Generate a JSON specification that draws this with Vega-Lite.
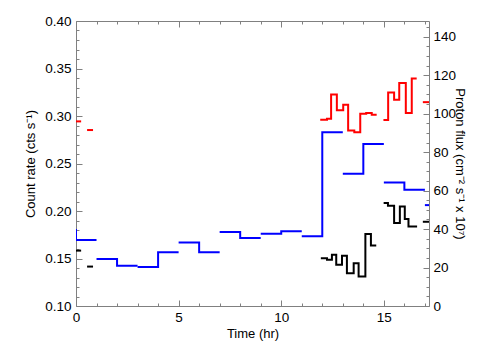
{
  "$schema": "https://vega.github.io/schema/vega-lite/v6.json",
  "width": 353,
  "height": 285,
  "autosize": {"type": "none"},
  "padding": {"left": 76, "top": 21, "right": 75, "bottom": 54},
  "background": "white",
  "config": {
    "view": {"stroke": null},
    "font": "Liberation Sans",
    "axis": {
      "labelFont": "Liberation Sans",
      "titleFont": "Liberation Sans",
      "labelFontSize": 13.5,
      "titleFontSize": 13,
      "titleFontWeight": "normal",
      "labelColor": "black",
      "titleColor": "black",
      "domainColor": "#808080",
      "tickColor": "#808080",
      "grid": false,
      "labelOverlap": false,
      "labelFlush": false,
      "labelBound": false
    }
  },
  "layer": [
    {
      "data": {"values": [
        {"t": -1, "v": 0.180, "g": 1}, {"t": 0, "v": 0.1696, "g": 1}, {"t": 1, "v": 0.1696, "g": 1},
        {"t": 1, "v": 0.1496, "g": 2}, {"t": 2, "v": 0.1425, "g": 2}, {"t": 3, "v": 0.1425, "g": 2},
        {"t": 3, "v": 0.1411, "g": 3}, {"t": 4, "v": 0.1566, "g": 3}, {"t": 5, "v": 0.1566, "g": 3},
        {"t": 5, "v": 0.1668, "g": 4}, {"t": 6, "v": 0.1566, "g": 4}, {"t": 7, "v": 0.1566, "g": 4},
        {"t": 7, "v": 0.178, "g": 5}, {"t": 8, "v": 0.1717, "g": 5}, {"t": 9, "v": 0.1717, "g": 5},
        {"t": 9, "v": 0.176, "g": 6}, {"t": 10, "v": 0.1788, "g": 6}, {"t": 11, "v": 0.1788, "g": 6},
        {"t": 11, "v": 0.1735, "g": 7}, {"t": 12, "v": 0.2828, "g": 7}, {"t": 13, "v": 0.2828, "g": 7},
        {"t": 13, "v": 0.2392, "g": 8}, {"t": 14, "v": 0.2706, "g": 8}, {"t": 15, "v": 0.2706, "g": 8},
        {"t": 15, "v": 0.230, "g": 9}, {"t": 16, "v": 0.2224, "g": 9}, {"t": 17, "v": 0.2224, "g": 9},
        {"t": 17, "v": 0.2062, "g": 10}, {"t": 18, "v": 0.2062, "g": 10}
      ]},
      "mark": {"type": "line", "interpolate": "step-after", "clip": true, "color": "#0000ff", "strokeWidth": 2},
      "encoding": {
        "x": {
          "field": "t", "type": "quantitative",
          "scale": {"domain": [0, 17.2], "nice": false, "zero": false},
          "axis": {
            "orient": "bottom",
            "title": "Time (hr)",
            "titlePadding": 1,
            "values": [0,1,2,3,4,5,6,7,8,9,10,11,12,13,14,15,16,17],
            "tickSize": {"condition": {"test": "datum.value % 5 == 0", "value": -6}, "value": -3},
            "labelExpr": "datum.value % 5 == 0 ? datum.label : ''",
            "labelPadding": 10
          }
        },
        "y": {
          "field": "v", "type": "quantitative",
          "scale": {"domain": [0.1, 0.4], "nice": false, "zero": false},
          "axis": {
            "orient": "left",
            "title": "Count rate (cts s⁻¹)",
            "titlePadding": 7,
            "values": [0.10,0.11,0.12,0.13,0.14,0.15,0.16,0.17,0.18,0.19,0.20,0.21,0.22,0.23,0.24,0.25,0.26,0.27,0.28,0.29,0.30,0.31,0.32,0.33,0.34,0.35,0.36,0.37,0.38,0.39,0.40],
            "tickSize": {"condition": {"test": "round(datum.value*100) % 5 == 0", "value": -6}, "value": -3},
            "labelExpr": "round(datum.value*100) % 5 == 0 ? format(datum.value, '.2f') : ''",
            "labelPadding": 11
          }
        },
        "detail": {"field": "g", "type": "nominal"}
      }
    },
    {
      "data": {"values": [
        {"t": -0.05, "v": 96.0, "g": "r1", "s": "red"}, {"t": 0.25, "v": 96.0, "g": "r1", "s": "red"},
        {"t": 0.54, "v": 91.5, "g": "r2", "s": "red"}, {"t": 0.83, "v": 91.5, "g": "r2", "s": "red"},
        {"t": 11.9, "v": 96.9, "g": "r3", "s": "red"}, {"t": 12.23, "v": 97.4, "g": "r3", "s": "red"},
        {"t": 12.43, "v": 110.0, "g": "r3", "s": "red"}, {"t": 12.71, "v": 101.8, "g": "r3", "s": "red"},
        {"t": 13.02, "v": 104.7, "g": "r3", "s": "red"}, {"t": 13.26, "v": 91.2, "g": "r3", "s": "red"},
        {"t": 13.56, "v": 90.3, "g": "r3", "s": "red"}, {"t": 13.85, "v": 100.0, "g": "r3", "s": "red"},
        {"t": 14.14, "v": 100.4, "g": "r3", "s": "red"}, {"t": 14.41, "v": 99.5, "g": "r3", "s": "red"},
        {"t": 14.65, "v": 99.5, "g": "r3", "s": "red"},
        {"t": 14.98, "v": 96.7, "g": "r4", "s": "red"}, {"t": 15.21, "v": 111.0, "g": "r4", "s": "red"},
        {"t": 15.5, "v": 107.2, "g": "r4", "s": "red"}, {"t": 15.75, "v": 116.0, "g": "r4", "s": "red"},
        {"t": 16.07, "v": 100.4, "g": "r4", "s": "red"}, {"t": 16.36, "v": 118.3, "g": "r4", "s": "red"},
        {"t": 16.6, "v": 118.3, "g": "r4", "s": "red"},
        {"t": 16.9, "v": 106.0, "g": "r5", "s": "red"}, {"t": 17.4, "v": 106.0, "g": "r5", "s": "red"},
        {"t": -0.05, "v": 28.8, "g": "k1", "s": "black"}, {"t": 0.25, "v": 28.8, "g": "k1", "s": "black"},
        {"t": 0.54, "v": 20.5, "g": "k2", "s": "black"}, {"t": 0.83, "v": 20.5, "g": "k2", "s": "black"},
        {"t": 11.93, "v": 24.8, "g": "k3", "s": "black"}, {"t": 12.23, "v": 24.0, "g": "k3", "s": "black"},
        {"t": 12.47, "v": 26.6, "g": "k3", "s": "black"}, {"t": 12.68, "v": 21.4, "g": "k3", "s": "black"},
        {"t": 12.96, "v": 26.1, "g": "k3", "s": "black"}, {"t": 13.2, "v": 17.0, "g": "k3", "s": "black"},
        {"t": 13.53, "v": 22.2, "g": "k3", "s": "black"}, {"t": 13.77, "v": 15.3, "g": "k3", "s": "black"},
        {"t": 14.1, "v": 37.5, "g": "k3", "s": "black"}, {"t": 14.37, "v": 31.4, "g": "k3", "s": "black"},
        {"t": 14.63, "v": 31.4, "g": "k3", "s": "black"},
        {"t": 14.99, "v": 53.5, "g": "k4", "s": "black"}, {"t": 15.2, "v": 52.1, "g": "k4", "s": "black"},
        {"t": 15.5, "v": 43.1, "g": "k4", "s": "black"}, {"t": 15.78, "v": 51.7, "g": "k4", "s": "black"},
        {"t": 16.02, "v": 45.2, "g": "k4", "s": "black"}, {"t": 16.2, "v": 41.3, "g": "k4", "s": "black"},
        {"t": 16.62, "v": 41.3, "g": "k4", "s": "black"},
        {"t": 16.9, "v": 43.8, "g": "k5", "s": "black"}, {"t": 17.4, "v": 43.8, "g": "k5", "s": "black"}
      ]},
      "mark": {"type": "line", "interpolate": "step-after", "clip": true, "strokeWidth": 2},
      "encoding": {
        "x": {
          "field": "t", "type": "quantitative",
          "axis": {
            "orient": "top",
            "title": null,
            "labels": false,
            "values": [0,1,2,3,4,5,6,7,8,9,10,11,12,13,14,15,16,17],
            "tickSize": {"condition": {"test": "datum.value % 5 == 0", "value": -6}, "value": -3}
          }
        },
        "y": {
          "field": "v", "type": "quantitative",
          "scale": {"domain": [0, 148.2], "nice": false, "zero": false},
          "axis": {
            "orient": "right",
            "title": "Proton flux (cm⁻² s⁻¹ x 10⁷)",
            "titlePadding": -3,
            "values": [0,5,10,15,20,25,30,35,40,45,50,55,60,65,70,75,80,85,90,95,100,105,110,115,120,125,130,135,140,145],
            "tickSize": {"condition": {"test": "datum.value % 20 == 0", "value": -6}, "value": -3},
            "labelExpr": "datum.value % 20 == 0 ? datum.label : ''",
            "labelPadding": 10
          }
        },
        "color": {"field": "s", "type": "nominal", "scale": {"domain": ["red", "black"], "range": ["#ff0000", "#000000"]}, "legend": null},
        "detail": {"field": "g", "type": "nominal"}
      }
    },
    {
      "mark": {"type": "rule", "color": "#707070", "strokeWidth": 1, "strokeDash": [7, 3, 2, 3]},
      "encoding": {
        "x": {"datum": 15, "type": "quantitative", "axis": null}
      }
    }
  ],
  "resolve": {"scale": {"y": "independent"}, "axis": {"x": "independent", "y": "independent"}}
}
